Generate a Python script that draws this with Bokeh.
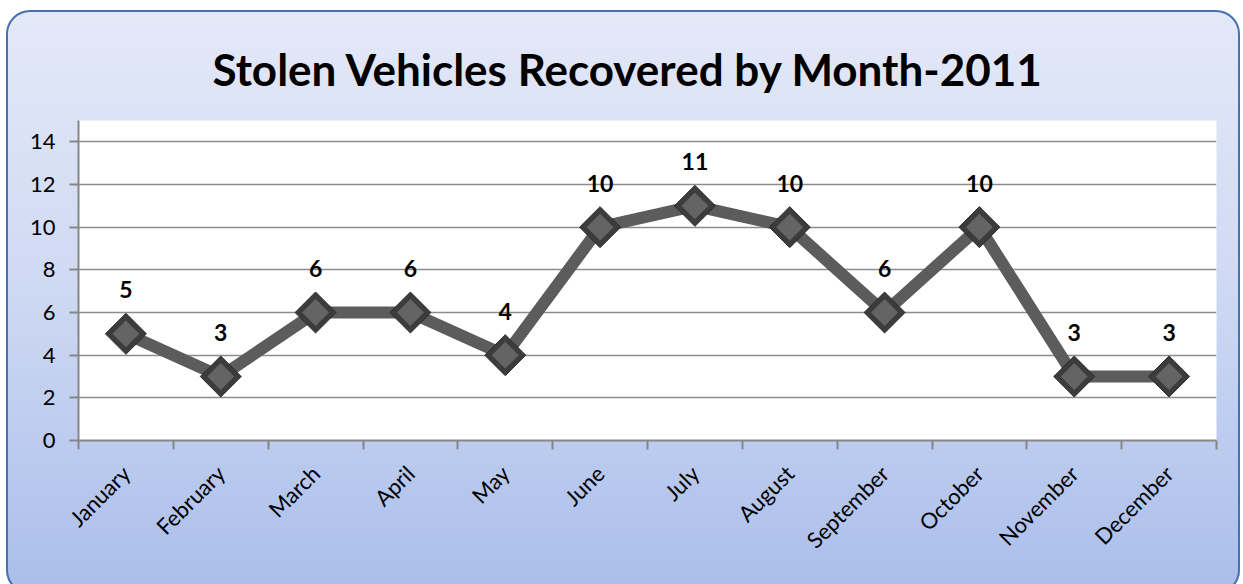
import math
from bokeh.plotting import figure
from bokeh.models import FixedTicker, Range1d, ColumnDataSource
from bokeh.core.properties import value
from bokeh.embed import file_html
from bokeh.resources import INLINE

# ---- data ----
months = ["January", "February", "March", "April", "May", "June",
          "July", "August", "September", "October", "November", "December"]
recovered = [5, 3, 6, 6, 4, 10, 11, 10, 6, 10, 3, 3]
y_ticks = [0, 2, 4, 6, 8, 10, 12, 14]
title_text = "Stolen Vehicles Recovered by Month-2011"

FONT = "Lato"

xs = [i + 0.5 for i in range(len(months))]
src = ColumnDataSource(dict(x=xs, y=recovered, label=[str(v) for v in recovered]))

p = figure(width=1234, height=584, output_backend="svg", toolbar_location=None,
           x_range=Range1d(0, len(months)), y_range=Range1d(0, 15),
           min_border_left=72, min_border_right=24, min_border_top=110,
           min_border_bottom=154)

p.styles = {
    "background": "linear-gradient(to bottom, #e4e9f8 0%, #d0daf3 45%, #aabeeb 100%)",
    "box-shadow": "inset 0 0 0 2px #4673b0",
    "border-radius": "24px",
    "margin-left": "6px",
    "margin-top": "10px",
    "margin-bottom": "-30px",
}
p.border_fill_color = None
p.background_fill_color = "white"
p.outline_line_color = None

# title
p.title.text = title_text
p.title.text_font = FONT
p.title.text_font_style = "bold"
p.title.text_font_size = "44px"
p.title.align = "left"
p.title.vertical_align = "middle"
p.title.offset = 134
p.title.standoff = 50
p.title.text_color = "black"

# y axis
p.yaxis.ticker = FixedTicker(ticks=y_ticks, minor_ticks=[])
p.yaxis.axis_line_color = "#868686"
p.yaxis.axis_line_width = 2
p.yaxis.major_tick_line_color = "#868686"
p.yaxis.major_tick_line_width = 2
p.yaxis.major_tick_out = 9
p.yaxis.major_tick_in = 0
p.yaxis.minor_tick_line_color = None
p.yaxis.major_label_text_font = FONT
p.yaxis.major_label_text_font_size = "22px"
p.yaxis.major_label_text_color = "black"
p.yaxis.major_label_standoff = 14

# x axis: labels at category centres, ticks at category boundaries
p.xaxis.ticker = FixedTicker(ticks=xs, minor_ticks=list(range(len(months) + 1)))
p.xaxis.major_label_overrides = {x: m for x, m in zip(xs, months)}
p.xaxis.axis_line_color = "#868686"
p.xaxis.axis_line_width = 2
p.xaxis.major_tick_line_color = None
p.xaxis.major_tick_out = 0
p.xaxis.major_tick_in = 0
p.xaxis.minor_tick_line_color = "#868686"
p.xaxis.minor_tick_line_width = 2
p.xaxis.minor_tick_out = 9
p.xaxis.minor_tick_in = 0
p.xaxis.major_label_orientation = math.pi / 4
p.xaxis.major_label_text_font = FONT
p.xaxis.major_label_text_font_size = "22px"
p.xaxis.major_label_text_color = "black"
p.xaxis.major_label_standoff = 20

# grid
p.xgrid.visible = False
p.ygrid.ticker = FixedTicker(ticks=y_ticks, minor_ticks=[])
p.ygrid.grid_line_color = "#8c8c8c"
p.ygrid.grid_line_width = 1.5

# series
p.line("x", "y", source=src, line_color="#5c5c5c", line_width=12)
p.scatter("x", "y", source=src, marker="square", size=29, angle=math.pi / 4,
          fill_color="#3c3c3c", line_color="#2a2a2a", line_width=1)
p.scatter("x", "y", source=src, marker="square", size=19, angle=math.pi / 4,
          fill_color="#646464", line_color=None)

p.text("x", "y", text="label", source=src, text_font=value(FONT),
       text_font_style="bold", text_font_size="23px", text_align="center",
       text_baseline="middle", y_offset=-44, text_color="black")

open("out.html", "w").write(file_html(p, INLINE))
